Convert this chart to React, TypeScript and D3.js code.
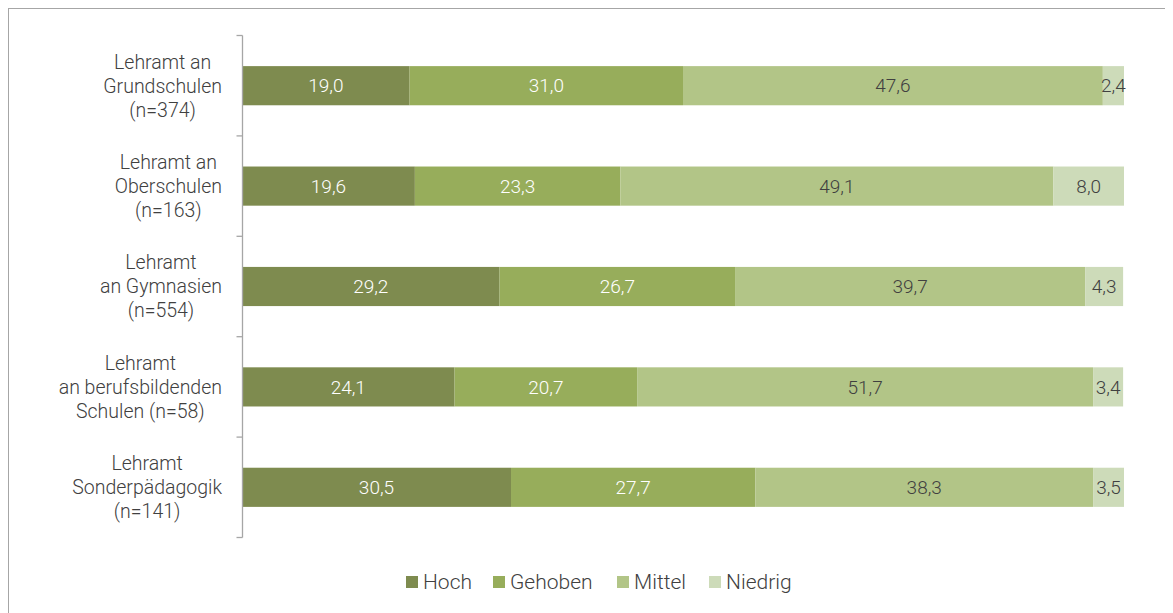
import React, { useLayoutEffect, useRef } from "react";
import * as d3 from "d3";

const categories = [
  ["Lehramt an", "Grundschulen", "(n=374)"],
  ["Lehramt an", "Oberschulen", "(n=163)"],
  ["Lehramt", "an Gymnasien", "(n=554)"],
  ["Lehramt", "an berufsbildenden", "Schulen (n=58)"],
  ["Lehramt", "Sonderpädagogik", "(n=141)"],
];
const seriesNames = ["Hoch", "Gehoben", "Mittel", "Niedrig"];
const hoch = [19.0, 19.6, 29.2, 24.1, 30.5];
const gehoben = [31.0, 23.3, 26.7, 20.7, 27.7];
const mittel = [47.6, 49.1, 39.7, 51.7, 38.3];
const niedrig = [2.4, 8.0, 4.3, 3.4, 3.5];
const colors = ["#7e8b4f", "#97ad5b", "#b2c587", "#cddbb9"];
const labelColors = ["#ffffff", "#ffffff", "#404040", "#404040"];

const W = 1165;
const H = 605;
const OFF = 8;
const FONT = "Roboto, 'Open Sans', sans-serif";
const LABEL_RIGHT = 222 - OFF;

export default function App() {
  const labelsRef = useRef<SVGGElement>(null);
  const series = [hoch, gehoben, mittel, niedrig];
  const rows = categories.map((c, i) => {
    const obj: any = { idx: i };
    seriesNames.forEach((s, j) => (obj[s] = series[j][i]));
    return obj;
  });
  const stacked = d3.stack<any>().keys(seriesNames)(rows);
  const x = d3.scaleLinear().domain([0, 100]).range([242 - OFF, 1124 - OFF]);
  const y = d3
    .scaleBand<number>()
    .domain(categories.map((_, i) => i))
    .range([35.5 - OFF, 537.5 - OFF])
    .paddingInner(0.61)
    .paddingOuter(0.305);
  const step = y.step();
  const axisX = 242.5 - OFF;
  const ticks = d3.range(categories.length + 1).map((i) => 35.5 - OFF + i * step);

  const legendX = [406, 493, 617, 709].map((v) => v - OFF);
  const legendY = 582 - OFF;

  useLayoutEffect(() => {
    if (!labelsRef.current) return;
    d3.select(labelsRef.current)
      .selectAll<SVGTextElement, unknown>("text")
      .each(function () {
        const tspans = d3.select(this).selectAll<SVGTSpanElement, unknown>("tspan");
        let maxW = 0;
        tspans.each(function () {
          maxW = Math.max(maxW, this.getComputedTextLength());
        });
        tspans.attr("x", LABEL_RIGHT - maxW / 2);
      });
  });

  return (
    <svg width={W} height={H} style={{ display: "block" }} fontFamily={FONT}>
      <rect x={0.5} y={0.5} width={W + 50} height={H + 50} fill="#fff" stroke="#a6a6a6" strokeWidth={1} />
      {stacked.map((layer, j) =>
        layer.map((d, i) => {
          const x0 = x(d[0]);
          const x1 = x(d[1]);
          const yy = y(i)!;
          return (
            <g key={`${j}-${i}`}>
              <rect x={x0} y={yy} width={x1 - x0} height={y.bandwidth()} fill={colors[j]} />
              <text
                x={(x0 + x1) / 2}
                y={yy + y.bandwidth() / 2}
                dy="0.35em"
                textAnchor="middle"
                fontSize={19}
                fontWeight={300}
                fill={labelColors[j]}
              >
                {series[j][i].toFixed(1).replace(".", ",")}
              </text>
            </g>
          );
        })
      )}
      <line x1={axisX} x2={axisX} y1={ticks[0]} y2={ticks[ticks.length - 1]} stroke="#a6a6a6" strokeWidth={1.3} />
      {ticks.map((t, i) => (
        <line key={i} x1={axisX - 6} x2={axisX} y1={t} y2={t} stroke="#a6a6a6" strokeWidth={1.3} />
      ))}
      <g ref={labelsRef}>
        {categories.map((lines, i) => {
          const cy = y(i)! + y.bandwidth() / 2;
          return (
            <text key={i} textAnchor="middle" fontSize={19.5} fontWeight={300} fill="#404040">
              {lines.map((l, k) => (
                <tspan key={k} x={155 - OFF} y={cy + (k - 1) * 24} dy="0.35em">
                  {l}
                </tspan>
              ))}
            </text>
          );
        })}
      </g>
      {seriesNames.map((s, j) => (
        <g key={s}>
          <rect x={legendX[j]} y={legendY - 6} width={12} height={12} fill={colors[j]} />
          <text x={legendX[j] + 17} y={legendY} dy="0.35em" fontSize={21} fontWeight={300} fill="#404040">
            {s}
          </text>
        </g>
      ))}
    </svg>
  );
}
